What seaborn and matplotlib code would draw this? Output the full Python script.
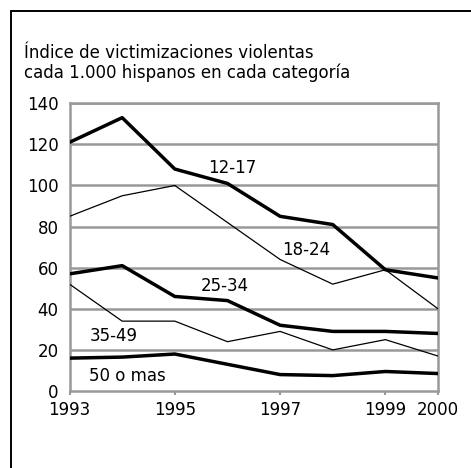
import matplotlib
matplotlib.use("Agg")
import matplotlib.pyplot as plt
import seaborn as sns
import pandas as pd
from matplotlib.patches import Rectangle

# --------------------------------------------------------------------------- #
# Data
# --------------------------------------------------------------------------- #
years = [1993, 1994, 1995, 1996, 1997, 1998, 1999, 2000]
age_12_17 = [121, 133, 108, 101, 85, 81, 59, 55]
age_18_24 = [85, 95, 100, 82, 64, 52, 59, 40]
age_25_34 = [57, 61, 46, 44, 32, 29, 29, 28]
age_35_49 = [52, 34, 34, 24, 29, 20, 25, 17]
age_50_mas = [16, 16.5, 18, 13, 8, 7.5, 9.5, 8.5]

series_names = ["12-17", "18-24", "25-34", "35-49", "50 o mas"]
series_values = [age_12_17, age_18_24, age_25_34, age_35_49, age_50_mas]
series_thick = [True, False, True, False, True]

x_ticks = [1993, 1995, 1997, 1999, 2000]
y_ticks = [0, 20, 40, 60, 80, 100, 120, 140]
title_text = "Índice de victimizaciones violentas\ncada 1.000 hispanos en cada categoría"

# label positions (year, value) for the inline series names
label_pos = {"12-17": (1996.1, 108.5), "18-24": (1997.5, 68.5),
             "25-34": (1995.95, 51), "35-49": (1993.83, 27),
             "50 o mas": (1994.1, 7.5)}

# --------------------------------------------------------------------------- #
# Plot
# --------------------------------------------------------------------------- #
sns.set_style("white")
plt.rcParams["font.family"] = ["DejaVu Sans"]
plt.rcParams["text.color"] = "black"
plt.rcParams["xtick.labelcolor"] = "black"
plt.rcParams["ytick.labelcolor"] = "black"
fs = 12

fig = plt.figure(figsize=(4.71, 4.68), dpi=100)
ax = fig.add_axes([0.1476, 0.1645, 0.7824, 0.6148])

grid_color = "#999999"
for v in y_ticks[1:]:
    ax.axhline(v, color=grid_color, linewidth=1.8, zorder=1)

for name, vals, thick in zip(series_names, series_values, series_thick):
    df = pd.DataFrame({"year": years, "value": vals})
    sns.lineplot(data=df, x="year", y="value", ax=ax, color="black",
                 linewidth=2.5 if thick else 0.9, zorder=3)
    lx, ly = label_pos[name]
    ax.text(lx, ly, name, ha="center", va="center", fontsize=fs, zorder=4)

ax.set_xlim(1993, 2000)
ax.set_ylim(0, 140)
ax.set_xticks(x_ticks)
ax.set_xticklabels([str(t) for t in x_ticks])
ax.set_yticks(y_ticks)
ax.set_yticklabels([str(t) for t in y_ticks])
ax.set_xlabel("")
ax.set_ylabel("")

for side in ["left", "right", "top", "bottom"]:
    ax.spines[side].set_visible(True)
    ax.spines[side].set_color(grid_color)
    ax.spines[side].set_linewidth(1.8)

ax.tick_params(axis="x", direction="out", length=3, width=1.5, color=grid_color,
               pad=4, labelsize=fs, labelcolor="black")
ax.tick_params(axis="y", length=0, pad=8, labelsize=fs, labelcolor="black")
ax.xaxis.set_ticks_position("bottom")

fig.text(24 / 471, 1 - 63 / 468, title_text, ha="left", va="center",
         fontsize=fs, linespacing=1.15, color="black")

# outer black frame (extends past the right and bottom edges)
fig.patches.append(Rectangle((11 / 471, -0.1), 1.2, 1 - 11 / 468 + 0.1,
                             transform=fig.transFigure, fill=False,
                             edgecolor="black", linewidth=1.4))

fig.savefig("out.png", dpi=100)
